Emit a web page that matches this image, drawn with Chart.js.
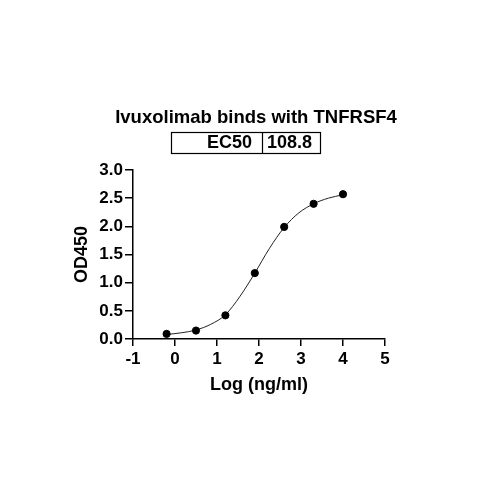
<!DOCTYPE html>
<html>
<head>
<meta charset="utf-8">
<script src="https://cdn.jsdelivr.net/npm/chart.js@4.4.1/dist/chart.umd.min.js"></script>
<style>
html,body{margin:0;padding:0;background:#fff;}
#wrap{position:relative;width:500px;height:500px;}
</style>
</head>
<body>
<div id="wrap"><canvas id="c" width="500" height="500"></canvas></div>
<script>
// Measured data points
const logConc = [-0.2, 0.5, 1.2, 1.9, 2.6, 3.3, 4.0];
const od450 = [0.09, 0.15, 0.42, 1.17, 1.99, 2.40, 2.57];
// Fitted curve
const curveX = [-0.2, 0.15, 0.5, 0.85, 1.2, 1.55, 1.9, 2.25, 2.6, 2.95, 3.3, 3.65, 4.0];
const curveY = [0.08, 0.11, 0.16, 0.26, 0.43, 0.76, 1.17, 1.61, 1.98, 2.24, 2.40, 2.50, 2.56];
// Axis ticks
const xTicks = [-1, 0, 1, 2, 3, 4, 5];
const yTicks = [0.0, 0.5, 1.0, 1.5, 2.0, 2.5, 3.0];
// Text
const chartTitle = 'Ivuxolimab binds with TNFRSF4';
const tableLabel = 'EC50';
const tableValue = '108.8';
const xTitle = 'Log (ng/ml)';
const yTitle = 'OD450';

const FONT = "'Liberation Sans', Arial, Helvetica, sans-serif";

const headerPlugin = {
  id: 'header',
  afterDraw(chart) {
    const ctx = chart.ctx;
    ctx.save();
    ctx.fillStyle = '#000';
    ctx.textBaseline = 'middle';
    ctx.font = 'bold 18.5px ' + FONT;
    ctx.textAlign = 'center';
    ctx.fillText(chartTitle, 256, 118);
    // table
    ctx.strokeStyle = '#000';
    ctx.lineWidth = 1.2;
    ctx.strokeRect(171.5, 132.5, 149, 21);
    ctx.beginPath();
    ctx.moveTo(262.5, 132.5);
    ctx.lineTo(262.5, 153.5);
    ctx.stroke();
    ctx.font = 'bold 18px ' + FONT;
    ctx.textAlign = 'right';
    ctx.fillText(tableLabel, 252, 143.5);
    ctx.textAlign = 'left';
    ctx.fillText(tableValue, 267, 143.5);
    ctx.restore();
  }
};

new Chart(document.getElementById('c'), {
  type: 'scatter',
  data: {
    datasets: [
      {
        label: 'fit',
        data: curveX.map((x, i) => ({x: x, y: curveY[i]})),
        showLine: true,
        borderColor: '#222',
        borderWidth: 1,
        pointRadius: 0,
        cubicInterpolationMode: 'monotone',
        fill: false,
        order: 2
      },
      {
        label: 'data',
        data: logConc.map((x, i) => ({x: x, y: od450[i]})),
        showLine: false,
        backgroundColor: '#000',
        borderColor: '#000',
        pointRadius: 3.6,
        pointHoverRadius: 3.6,
        order: 1
      }
    ]
  },
  options: {
    responsive: false,
    animation: false,
    devicePixelRatio: 1,
    layout: {padding: {left: 70, right: 115, top: 170, bottom: 104}},
    plugins: {legend: {display: false}, tooltip: {enabled: false}, title: {display: false}},
    scales: {
      x: {
        type: 'linear',
        min: -1, max: 5,
        afterFit(s) { s.height = 57; },
        afterBuildTicks(s) { s.ticks = xTicks.map(v => ({value: v})); },
        ticks: {
          color: '#000', padding: 3,
          font: {family: FONT, size: 17, weight: 'bold'},
          callback: v => String(v)
        },
        grid: {display: true, drawOnChartArea: false, drawTicks: true, tickLength: 7, color: '#000', lineWidth: 1.5},
        border: {display: true, color: '#000', width: 1.5},
        title: {display: true, text: xTitle, color: '#000', padding: {top: 0, bottom: 0},
          font: {family: FONT, size: 18, weight: 'bold'}}
      },
      y: {
        type: 'linear',
        min: 0, max: 3,
        afterFit(s) { s.width = 63; },
        afterBuildTicks(s) { s.ticks = yTicks.map(v => ({value: v})); },
        ticks: {
          color: '#000', padding: 2,
          font: {family: FONT, size: 17, weight: 'bold'},
          callback: v => Number(v).toFixed(1)
        },
        grid: {display: true, drawOnChartArea: false, drawTicks: true, tickLength: 8, color: '#000', lineWidth: 1.5},
        border: {display: true, color: '#000', width: 1.5},
        title: {display: true, text: yTitle, color: '#000', padding: {top: 1, bottom: 0},
          font: {family: FONT, size: 18, weight: 'bold'}}
      }
    }
  },
  plugins: [headerPlugin]
});
</script>
</body>
</html>
